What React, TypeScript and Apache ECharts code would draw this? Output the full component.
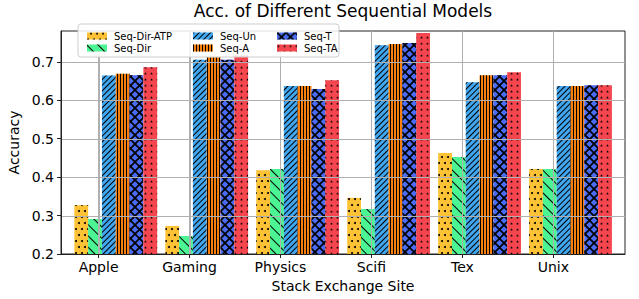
import React, { useEffect, useRef } from 'react';
import * as echarts from 'echarts';

// ---- data ----
const categories = ['Apple', 'Gaming', 'Physics', 'Scifi', 'Tex', 'Unix'];
const seriesNames = ['Seq-Dir-ATP', 'Seq-Dir', 'Seq-Un', 'Seq-A', 'Seq-T', 'Seq-TA'];
const seqDirATP = [0.327, 0.273, 0.418, 0.346, 0.463, 0.421];
const seqDir = [0.291, 0.247, 0.421, 0.317, 0.452, 0.421];
const seqUn = [0.664, 0.705, 0.637, 0.743, 0.647, 0.637];
const seqA = [0.669, 0.712, 0.637, 0.746, 0.665, 0.637];
const seqT = [0.665, 0.705, 0.629, 0.749, 0.665, 0.639];
const seqTA = [0.686, 0.716, 0.652, 0.775, 0.673, 0.639];
const yTicks = [0.2, 0.3, 0.4, 0.5, 0.6, 0.7];
const yMin = 0.2;
const yMax = 0.78;
const xMin = -0.413;
const xMax = 5.788;
const titleText = 'Acc. of Different Sequential Models';
const xTitle = 'Stack Exchange Site';
const yTitle = 'Accuracy';

const FONT = 'DejaVu Sans';
const colors = ['#fdc236', '#4cf594', '#40a6f0', '#f77f0e', '#4a6cf5', '#f5464f'];
const GRID_COLOR = '#b0b0b0';

const starPath =
  'path://M50,0 L61,35 L98,35 L68,57 L79,91 L50,70 L21,91 L32,57 L2,35 L39,35 Z';
const xPath =
  'path://M0,0 L1.2,0 L9,7.8 L9,9 L7.8,9 L0,1.2 Z M9,0 L9,1.2 L1.2,9 L0,9 L0,7.8 L7.8,0 Z';

const decals: any[] = [
  { symbol: 'circle', symbolSize: 1, color: '#000', dashArrayX: [[2, 4], [0, 3, 2, 1]], dashArrayY: [2, 4], rotation: 0 },
  { symbol: 'rect', symbolSize: 1, color: '#000', dashArrayX: [1, 0], dashArrayY: [1, 7], rotation: Math.PI / 4 },
  { symbol: 'rect', symbolSize: 1, color: '#000', dashArrayX: [1, 0], dashArrayY: [1, 3], rotation: -Math.PI / 4 },
  { symbol: 'rect', symbolSize: 1, color: '#000', dashArrayX: [1, 2], dashArrayY: [1, 0], rotation: 0 },
  { symbol: xPath, symbolSize: 1, color: '#000', dashArrayX: [9, 0], dashArrayY: [9, 0], rotation: 0 },
  { symbol: starPath, symbolSize: 1, color: '#000', dashArrayX: [3, 3], dashArrayY: [3, 3], rotation: 0 },
];

// plot geometry
const PLOT_LEFT = 61;
const PLOT_RIGHT = 14;
const PLOT_TOP = 31;
const PLOT_BOTTOM = 45;
const PLOT_W = 639 - PLOT_LEFT - PLOT_RIGHT;

export default function App() {
  const ref = useRef<HTMLDivElement>(null);
  useEffect(() => {
    const chart = echarts.init(ref.current!, null, { renderer: 'svg' });
    const values = [seqDirATP, seqDir, seqUn, seqA, seqT, seqTA];
    const groupShift = 0.189;
    const series: any[] = seriesNames.map((name, k) => ({
      name,
      type: 'bar',
      xAxisIndex: 0,
      yAxisIndex: 0,
      barWidth: 13.8,
      barGap: '0%',
      z: 2,
      itemStyle: { color: colors[k], decal: decals[k] },
      data: values[k].map((v, i) => [i + groupShift, v]),
    }));
    // grid lines (vertical at category ticks, horizontal at y ticks) in one custom series
    const gridData: number[][] = [
      ...categories.map((_, i) => [i, yMin, 0]),
      ...yTicks.slice(1).map((t) => [xMin, t, 1]),
    ];
    series.push({
      name: 'gridlines',
      type: 'custom',
      xAxisIndex: 0,
      yAxisIndex: 0,
      z: 3,
      silent: true,
      clip: false,
      encode: { x: 0, y: 1 },
      data: gridData,
      renderItem: (_p: any, api: any) => {
        const kind = api.value(2);
        if (kind === 0) {
          const x = api.value(0);
          const a = api.coord([x, yMin]);
          const b = api.coord([x, yMax]);
          const px = Math.round(a[0]) + 0.5;
          return {
            type: 'polyline',
            shape: { points: [[px, a[1]], [px, b[1]]] },
            style: { stroke: GRID_COLOR, lineWidth: 1, fill: null },
          };
        }
        const a = api.coord([xMin, api.value(1)]);
        const b = api.coord([xMax, api.value(1)]);
        const py = Math.round(a[1]) + 0.5;
        return {
          type: 'polyline',
          shape: { points: [[a[0], py], [b[0], py]] },
          style: { stroke: GRID_COLOR, lineWidth: 1, fill: null },
        };
      },
    });
    const legendCommon = {
      top: 26,
      orient: 'vertical',
      itemWidth: 20,
      itemHeight: 7,
      itemGap: 2,
      icon: 'rect',
      selectedMode: false,
      z: 11,
      textStyle: { fontSize: 10, fontFamily: FONT, color: '#000', padding: [0, 0, 0, 2] },
    };
    // second (invisible) grid whose category ticks fall on the category positions,
    // used only for its vertical split lines
    const firstTickPx = PLOT_LEFT + ((0 - xMin) / (xMax - xMin)) * PLOT_W;
    const lastTickPx = PLOT_LEFT + ((categories.length - 1 - xMin) / (xMax - xMin)) * PLOT_W;
    chart.setOption({
      animation: false,
      backgroundColor: '#fff',
      grid: [
        {
          left: PLOT_LEFT,
          right: PLOT_RIGHT,
          top: PLOT_TOP,
          bottom: PLOT_BOTTOM,
          show: true,
          borderColor: '#222',
          borderWidth: 1,
          containLabel: false,
          outerBoundsMode: 'none',
        },
        {
          left: firstTickPx,
          right: 639 - lastTickPx,
          top: PLOT_TOP,
          bottom: PLOT_BOTTOM,
          show: false,
          containLabel: false,
          outerBoundsMode: 'none',
        },
      ],
      graphic: [
        {
          type: 'text',
          x: 343,
          y: 2,
          z: 20,
          style: { text: titleText, font: `17px "${FONT}"`, textAlign: 'center', textVerticalAlign: 'top', fill: '#000' },
        },
        {
          type: 'rect',
          x: 78,
          y: 24,
          z: 10,
          shape: { width: 261, height: 33, r: 3 },
          style: { fill: 'rgba(255,255,255,0.85)', stroke: '#cccccc', lineWidth: 1 },
        },
      ],
      legend: [
        { ...legendCommon, left: 82, data: seriesNames.slice(0, 2) },
        { ...legendCommon, left: 188, data: seriesNames.slice(2, 4) },
        { ...legendCommon, left: 272, data: seriesNames.slice(4, 6) },
      ],
      xAxis: [
        {
          type: 'value',
          gridIndex: 0,
          min: xMin,
          max: xMax,
          z: 4,
          name: xTitle,
          nameLocation: 'middle',
          nameGap: 21,
          nameTextStyle: { fontSize: 14, fontFamily: FONT, color: '#000' },
          axisLine: { show: true, onZero: false, lineStyle: { color: '#222', width: 1 } },
          axisTick: { show: true, length: 4, lineStyle: { color: '#222' }, customValues: categories.map((_, i) => i) },
          axisLabel: {
            customValues: categories.map((_, i) => i),
            formatter: (v: number) => categories[Math.round(v)] ?? '',
            fontSize: 14,
            fontFamily: FONT,
            color: '#000',
            margin: 6,
          },
          splitLine: { show: false },
        },
        {
          type: 'category',
          gridIndex: 1,
          data: categories,
          boundaryGap: false,
          z: 3,
          axisLine: { show: false },
          axisTick: { show: false },
          axisLabel: { show: false },
          splitLine: { show: true, interval: 0, lineStyle: { color: GRID_COLOR, width: 1 } },
        },
      ],
      yAxis: [
        {
          type: 'value',
          gridIndex: 0,
          min: yMin,
          max: yMax,
          z: 4,
          name: yTitle,
          nameLocation: 'middle',
          nameGap: 32,
          nameTextStyle: { fontSize: 14, fontFamily: FONT, color: '#000' },
          axisLine: { show: true, onZero: false, lineStyle: { color: '#222', width: 1 } },
          axisTick: { show: true, length: 4, lineStyle: { color: '#222' }, customValues: yTicks },
          axisLabel: {
            customValues: yTicks,
            formatter: (v: number) => v.toFixed(1),
            fontSize: 14,
            fontFamily: FONT,
            color: '#000',
            margin: 7,
          },
          splitLine: { show: false },
        },
        {
          type: 'value',
          gridIndex: 1,
          min: yMin,
          max: yMax,
          show: false,
          splitLine: { show: false },
        },
      ],
      series,
    } as any);
    return () => chart.dispose();
  }, []);
  return (
    <div
      ref={ref}
      style={{ position: 'fixed', left: 0, top: 0, width: 639, height: 299 }}
    />
  );
}
